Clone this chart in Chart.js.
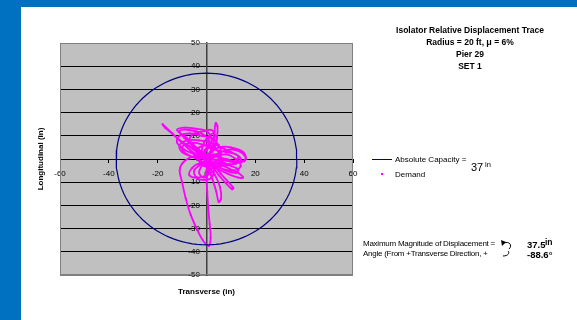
<!DOCTYPE html>
<html>
<head>
<meta charset="utf-8">
<script src="https://cdn.jsdelivr.net/npm/chart.js@4/dist/chart.umd.min.js"></script>
<style>
  html, body { margin: 0; padding: 0; background: #ffffff; }
  #frame { position: relative; width: 577px; height: 320px; overflow: hidden; background: #ffffff;
           font-family: "Liberation Sans", Arial, sans-serif; color: #000; }
  #bandTop { position: absolute; left: 0; top: 0; width: 577px; height: 7px; background: #0070c0; }
  #bandLeft { position: absolute; left: 0; top: 0; width: 21px; height: 320px; background: #0070c0; }
  canvas { position: absolute; left: 0; top: 0; }
  .t { position: absolute; white-space: nowrap; line-height: 1; }
  .title { left: 370px; width: 200px; text-align: center; font-weight: bold; font-size: 8.5px; }
  .small { font-size: 8px; }
</style>
</head>
<body>
<div id="frame">
  <div id="bandTop"></div>
  <div id="bandLeft"></div>
  <canvas id="c" width="577" height="320"></canvas>

  <div class="t title" style="top:26px">Isolator Relative Displacement Trace</div>
  <div class="t title" style="top:38px">Radius = 20 ft, <span style="font-size:9px">μ</span> = 6%</div>
  <div class="t title" style="top:50px">Pier 29</div>
  <div class="t title" style="top:62px">SET 1</div>

  <div style="position:absolute;left:372px;top:159px;width:20px;height:1px;background:#000080"></div>
  <div class="t small" style="left:395px;top:156px">Absolute Capacity =</div>
  <div class="t" style="left:471px;top:162px;font-size:11px">37</div>
  <div class="t" style="left:485px;top:161px;font-size:7.5px">in</div>
  <div style="position:absolute;left:381px;top:173px;width:2px;height:2px;background:#ff00ff"></div>
  <div class="t small" style="left:395px;top:171px">Demand</div>

  <div class="t small" style="left:363px;top:240px;letter-spacing:-0.25px">Maximum Magnitude of Displacement =</div>
  <div class="t small" style="left:363px;top:250px;letter-spacing:-0.25px">Angle (From +Transverse Direction, +</div>
  <svg style="position:absolute;left:499px;top:238px" width="16" height="20" viewBox="0 0 16 20">
    <path d="M5 5 C10 3, 14 7, 10 11" fill="none" stroke="#000" stroke-width="1"/>
    <path d="M2 2 L3 8 L7 4 Z" fill="#000"/>
    <path d="M9 13 C11 15, 9 18, 4 18" fill="none" stroke="#000" stroke-width="1"/>
  </svg>
  <div class="t" style="left:527px;top:240px;font-size:9.5px;font-weight:bold">37.5</div>
  <div class="t" style="left:545px;top:238px;font-size:8.5px;font-weight:bold">in</div>
  <div class="t" style="left:527px;top:250px;font-size:9.5px;font-weight:bold">-88.6°</div>
</div>

<script>
// Isolator capacity (in) and peak demand
const capacity = 37;
const maxMagnitude = 37.5;
const maxAngleDeg = -88.6;

// Axis ticks (in)
const xTicks = [-60, -40, -20, 0, 20, 40, 60];
const yTicks = [-50, -40, -30, -20, -10, 0, 10, 20, 30, 40, 50];

// Demand trace: transverse (x) and longitudinal (y) displacement, in
const demandX = [
  0, 1, 3, 5, 4, 2, 0, -2, -4, -3, 0, 3, 5, 6, 5, 2, -1, -3,
  -6, -10, -14, -17, -18, -17, -13, -9, -5, 0,
  4, 9, 13, 16, 15.5, 12, 7, 2,
  2, 3, 3.3, 3.8, 4.5, 4.3, 3.5, 1,
  -3, -8, -12, -9, -4, 0, 2, 1, -2,
  -7, -10, -11, -10, -8.5, -6.5, -4, -1.5, 0.9, 1.7, 1.3, 0.7, 0.3, 0, 0.5,
  4, 9, 13, 15, 13, 9, 4, 1,
  1, 2.5, 4, 5, 6, 5.5, 3.5, 1,
  3, 6, 9, 11, 10.5, 8, 5, 2,
  -2, -6, -10, -11, -8, -3, 2, 6, 10, 13, 11, 6, 1, -3, -6, -7, -4, 0, 3, 5, 6, 5, 2, -2, -7, -11, -12, -9, -5, -1,
  3, 8, 12, 14, 11, 6, 2, -1, -2, -1, 1, 3, 4, 2, 0, -2, -3, -1, 1, 0,
  -1, -5, -9, -11, -7, -2, 1, 0, -2,
  -3, -8, -10, -6, -1, 3, 8, 12, 14, 12, 7, 2,
  0, -4, -7, -5, -1, 2, 3, 1, -1,
  2, 6, 10, 13, 12, 8, 4, 0,
  -2, -5, -4, -1, 2, 3, 1,
  1, 5, 10, 15, 16, 13, 8, 3, 0,
  -4, -8, -12, -14, -11, -6, -2, 0
];
const demandY = [
  0, 1, 2, 1, -1, -2, -1, 1, 3, 5, 6, 5, 3, 0, -3, -4, -3, -1,
  3, 7, 11, 14, 15, 13.5, 10, 6, 2.5, 0,
  2, 4, 3.5, 1, -1, -1.5, -0.5, 0.5,
  4, 8, 12, 15.5, 14, 9, 5, 2,
  4, 9, 12.5, 13.5, 13, 12, 9, 5, 2,
  0.5, -2, -5, -10, -17, -24, -30, -35, -37.5, -34, -28, -21, -14, -8, -3,
  -2, -4, -6, -8, -8, -6.5, -4, -2,
  -4, -9, -14, -18.5, -17, -12, -7, -3,
  -3, -6.5, -10, -12.5, -13, -10.5, -7, -3,
  -1, 1, 3, 6, 8, 8, 7, 5, 3, 1, -2, -3, -3, -2, -4, -7, -8, -7, -5, -2, 2, 6, 9, 10, 11, 10, 7, 4, 2, 0,
  1, 2, 0, -3, -5, -4, -2, 0, 3, 7, 10, 11, 8, 4, 1, -3, -6, -8, -6, -2,
  1, 5, 9, 12, 12.5, 11, 8, 4, 1,
  0, 2, 5, 7, 6, 4, 3, 2, 0, -2, -2, -1,
  1, 4, 8, 11, 12, 12.5, 10, 6, 3,
  0, -1, -3, -4.5, -6, -5, -3, -1,
  -2, -5, -8, -9, -8, -4, -1,
  2, 5, 5, 3, 0, -1, 0, 1, 0,
  3, 6, 9, 11, 8, 5, 2, 0
];

// Capacity circle traced from the capacity radius
const circleAngles = [];
for (let a = 0; a <= 360; a += 3) circleAngles.push(a);
const capacityCircle = circleAngles.map(a => ({
  x: capacity * Math.cos(a * Math.PI / 180),
  y: capacity * Math.sin(a * Math.PI / 180)
}));
const demandPoints = demandX.map((x, i) => ({ x, y: demandY[i] }));

const tickFont = { family: '"Liberation Sans", Arial, sans-serif', size: 8 };

// Grey plot background and frame, plus axis titles
const plotFrame = {
  id: 'plotFrame',
  beforeDraw(chart) {
    const { ctx, chartArea: a } = chart;
    ctx.save();
    ctx.fillStyle = '#c0c0c0';
    ctx.fillRect(a.left, a.top, a.right - a.left, a.bottom - a.top);
    ctx.restore();
  },
  afterDraw(chart) {
    const { ctx, chartArea: a } = chart;
    ctx.save();
    ctx.strokeStyle = '#808080';
    ctx.lineWidth = 1;
    ctx.strokeRect(a.left + 0.5, a.top + 0.5, a.right - a.left - 1, a.bottom - a.top - 1);
    ctx.fillStyle = '#000';
    ctx.font = 'bold 8px "Liberation Sans", Arial, sans-serif';
    ctx.textAlign = 'center';
    ctx.textBaseline = 'middle';
    const xMid = chart.scales.x.getPixelForValue(0);
    ctx.fillText('Transverse (in)', xMid, 292);
    ctx.translate(41, (a.top + a.bottom) / 2);
    ctx.rotate(-Math.PI / 2);
    ctx.fillText('Longitudinal (in)', 0, 0);
    ctx.restore();
  }
};

new Chart(document.getElementById('c'), {
  type: 'scatter',
  data: {
    datasets: [
      {
        label: 'Absolute Capacity',
        data: capacityCircle,
        showLine: true,
        borderColor: '#000080',
        borderWidth: 1.2,
        pointRadius: 0,
        tension: 0
      },
      {
        label: 'Demand',
        data: demandPoints,
        showLine: true,
        borderColor: '#ff00ff',
        backgroundColor: '#ff00ff',
        borderWidth: 1.8,
        pointRadius: 1,
        pointBorderWidth: 0,
        tension: 0.4
      }
    ]
  },
  options: {
    responsive: false,
    animation: false,
    layout: { padding: { left: 60, right: 224, top: 43, bottom: 45 } },
    plugins: { legend: { display: false }, tooltip: { enabled: false } },
    scales: {
      x: {
        type: 'linear',
        position: { y: 0 },
        min: -60, max: 60,
        afterFit(s) { s.height = 0; },
        afterBuildTicks(s) { s.ticks = xTicks.map(v => ({ value: v })); },
        ticks: { font: tickFont, color: '#000', padding: 7, maxRotation: 0 },
        grid: { drawOnChartArea: false, drawTicks: true, tickLength: 3, color: '#000' },
        border: { color: '#000', width: 1 }
      },
      y: {
        type: 'linear',
        position: { x: 0 },
        min: -50, max: 50,
        afterFit(s) { s.width = 0; },
        afterBuildTicks(s) { s.ticks = yTicks.map(v => ({ value: v })); },
        ticks: { font: tickFont, color: '#000', padding: 2, callback: v => v + '   ' },
        grid: {
          drawOnChartArea: true, drawTicks: true, tickLength: 3,
          color: c => (Math.abs(c.tick.value) === 50 ? '#808080' : '#000'),
          lineWidth: 1
        },
        border: { color: '#404040', width: 1.5 }
      }
    }
  },
  plugins: [plotFrame]
});
</script>
</body>
</html>
